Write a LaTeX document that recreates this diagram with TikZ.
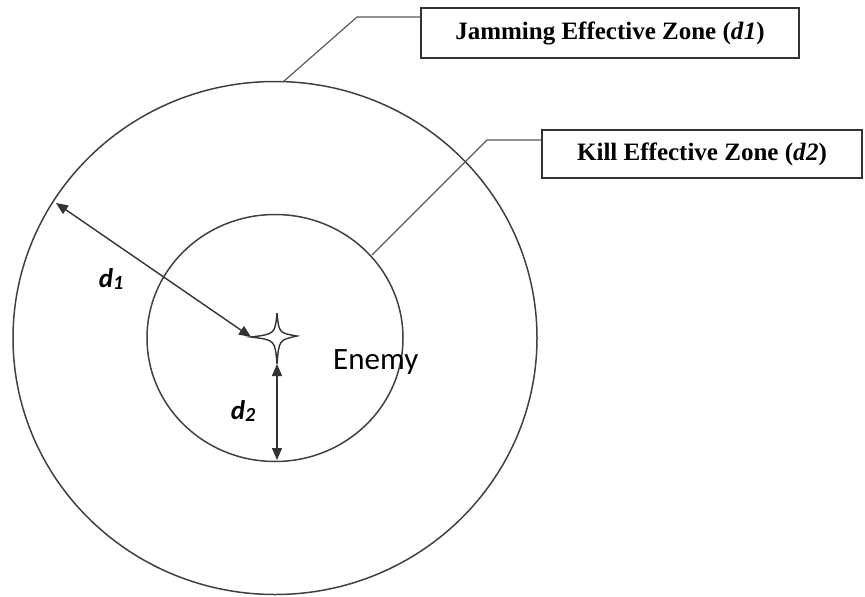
\documentclass[tikz,border=0pt]{standalone}
\usepackage{fontspec}
\setmainfont{Liberation Serif}
\newfontfamily\labelfont{Carlito}
\usetikzlibrary{arrows.meta,calc}
\begin{document}
\begin{tikzpicture}[x=1pt,y=-1pt,
  zone/.style={draw=black!75, line width=1.5pt},
  callout/.style={draw=black!65, line width=1.2pt},
  tagbox/.style={draw=black!80, line width=1.8pt, fill=white, inner sep=0pt,
    font=\fontsize{25}{27}\selectfont\bfseries},
  dimline/.style={draw=black!80, line width=1.4pt,
    {Triangle[length=12pt,width=10pt]}-{Triangle[length=12pt,width=10pt]}},
  dimlabel/.style={font=\labelfont\fontsize{27}{29}\selectfont\bfseries\itshape},
]
\useasboundingbox (0,0) rectangle (865,597);

% centre of both zones
\coordinate (ctr) at (275,338);

% outer and inner zone boundaries
\draw[zone] (ctr) ellipse [x radius=262, y radius=256.5];
\draw[zone] (ctr) ellipse [x radius=128, y radius=123.5];

% zone labels
\node[tagbox, minimum width=378, minimum height=50] (jam) at (610,33)
  {Jamming Effective Zone (\textit{d\kern0.5pt 1})};
\node[tagbox, minimum width=320, minimum height=48] (kill) at (702,154)
  {Kill Effective Zone (\textit{d\kern0.5pt 2})};

% callout leaders
\coordinate (outerTop) at (283,82);
\coordinate (bendA) at (357,17);
\coordinate (innerRim) at (372,255);
\coordinate (bendB) at (487,140);
\draw[callout] (outerTop) -- (bendA) -- (bendA -| jam.west);
\draw[callout] (innerRim) -- (bendB) -- (bendB -| kill.west);

% enemy marker
\coordinate (starL) at (251,337);
\coordinate (starB) at (277,364);
\draw[draw=black!80, line width=1.4pt]
  (277,313) .. controls (279,333) .. (297,336)
  .. controls (279,340) .. (starB)
  .. controls (275,340) .. (starL)
  .. controls (275,334) .. cycle;
\node[font=\labelfont\fontsize{31}{33}\selectfont, anchor=west, inner sep=0pt] (enemy) at (333,362) {Enemy};

% radius dimensions
\coordinate (outerRim) at (56,203);
\coordinate (innerBottom) at (277,460);
\draw[dimline] (outerRim) -- (starL);
\draw[dimline] (starB) -- (innerBottom);

\node[dimlabel] (dA) at (111,279) {d\raisebox{-2pt}{\fontsize{20}{22}\selectfont 1}};
\node[dimlabel] (dB) at (243,411) {d\raisebox{-2pt}{\fontsize{20}{22}\selectfont 2}};
\end{tikzpicture}
\end{document}
